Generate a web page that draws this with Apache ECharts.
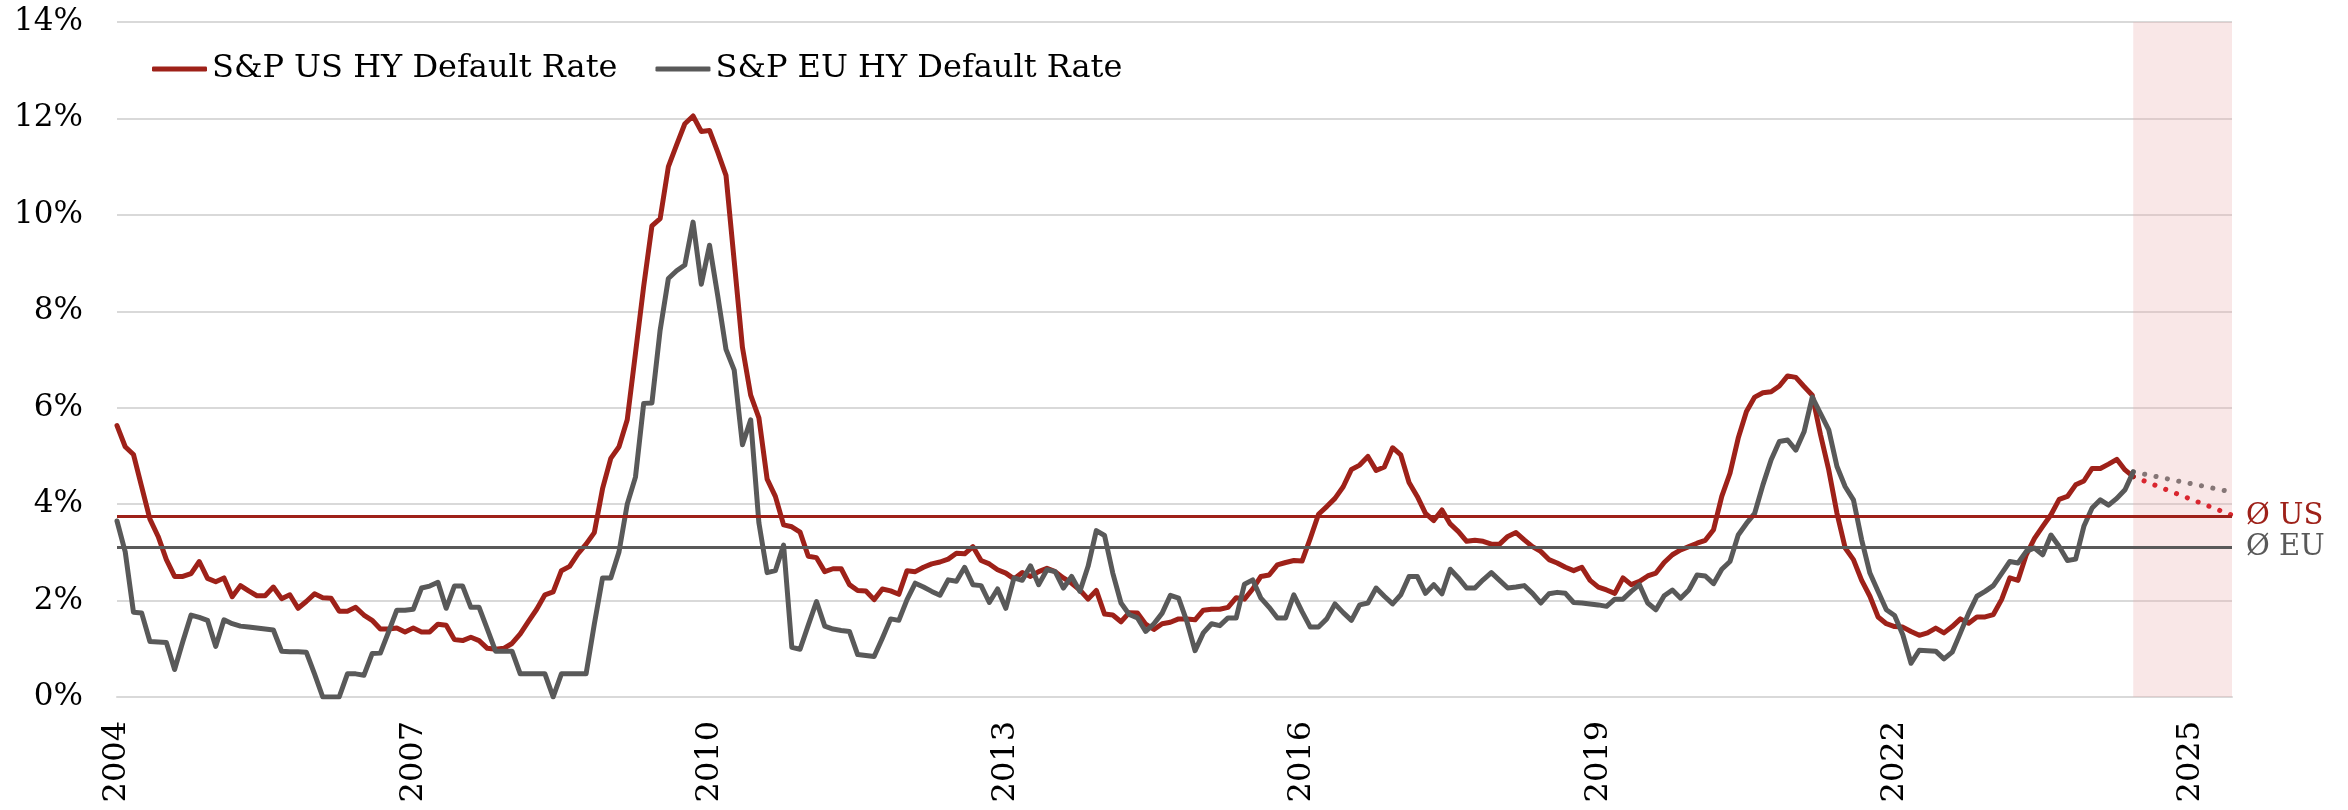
<!DOCTYPE html>
<html>
<head>
<meta charset="utf-8">
<script src="https://cdn.jsdelivr.net/npm/echarts@6/dist/echarts.min.js"></script>
<style>
  html, body { margin: 0; padding: 0; background: #ffffff; }
  #chart { width: 2348px; height: 810px; }
</style>
</head>
<body>
<div id="chart"></div>
<script>
// Monthly categories Jan 2004 .. Jun 2025
const firstYear = 2004;
const monthCount = 258;
const months = [];
for (let k = 0; k < monthCount; k++) {
  months.push((firstYear + Math.floor(k / 12)) + '-' + String(k % 12 + 1).padStart(2, '0'));
}
const yearTickEvery = 36;

// S&P US HY default rate (%), Jan 2004 .. Jun 2024
const usRate = [
  5.63, 5.19, 5.03, 4.36, 3.69, 3.33, 2.85, 2.50, 2.50, 2.56,
  2.81, 2.46, 2.39, 2.47, 2.08, 2.31, 2.20, 2.10, 2.10, 2.28,
  2.04, 2.12, 1.84, 1.98, 2.14, 2.06, 2.05, 1.78, 1.78, 1.86,
  1.70, 1.59, 1.41, 1.41, 1.43, 1.35, 1.43, 1.35, 1.35, 1.51,
  1.49, 1.19, 1.17, 1.24, 1.17, 1.01, 0.99, 1.01, 1.11, 1.31,
  1.57, 1.82, 2.12, 2.18, 2.62, 2.71, 2.97, 3.17, 3.41, 4.32,
  4.95, 5.19, 5.75, 7.13, 8.52, 9.77, 9.92, 11.00, 11.45, 11.89,
  12.05, 11.73, 11.75, 11.30, 10.82, 9.04, 7.25, 6.26, 5.79, 4.52,
  4.16, 3.57, 3.53, 3.42, 2.92, 2.89, 2.60, 2.66, 2.66, 2.33,
  2.21, 2.20, 2.02, 2.24, 2.20, 2.13, 2.62, 2.60, 2.69, 2.76,
  2.80, 2.86, 2.98, 2.97, 3.12, 2.83, 2.76, 2.64, 2.57, 2.45,
  2.58, 2.50, 2.60, 2.67, 2.60, 2.47, 2.36, 2.22, 2.03, 2.21,
  1.72, 1.70, 1.56, 1.75, 1.74, 1.51, 1.40, 1.52, 1.55, 1.62,
  1.62, 1.60, 1.80, 1.82, 1.82, 1.86, 2.06, 2.03, 2.24, 2.50,
  2.53, 2.74, 2.79, 2.83, 2.82, 3.29, 3.79, 3.95, 4.12, 4.36,
  4.72, 4.81, 4.99, 4.70, 4.77, 5.17, 5.02, 4.45, 4.16, 3.81,
  3.66, 3.88, 3.59, 3.43, 3.23, 3.25, 3.23, 3.17, 3.17, 3.33,
  3.41, 3.26, 3.12, 3.02, 2.85, 2.78, 2.69, 2.62, 2.69, 2.42,
  2.28, 2.22, 2.15, 2.47, 2.33, 2.40, 2.51, 2.57, 2.79, 2.95,
  3.05, 3.12, 3.19, 3.25, 3.47, 4.16, 4.64, 5.37, 5.92, 6.22,
  6.31, 6.33, 6.45, 6.66, 6.63, 6.44, 6.26, 5.44, 4.71, 3.81,
  3.09, 2.85, 2.42, 2.09, 1.66, 1.52, 1.46, 1.45, 1.36, 1.28,
  1.33, 1.43, 1.33, 1.46, 1.62, 1.53, 1.66, 1.66, 1.71, 2.02,
  2.47, 2.42, 2.95, 3.29, 3.54, 3.78, 4.10, 4.16, 4.40, 4.48,
  4.74, 4.74, 4.83, 4.93, 4.71, 4.57
];

// S&P EU HY default rate (%), Jan 2004 .. Jun 2024
const euRate = [
  3.65, 3.01, 1.76, 1.74, 1.15, 1.14, 1.13, 0.57, 1.15, 1.70,
  1.65, 1.59, 1.05, 1.60, 1.52, 1.47, 1.45, 1.43, 1.41, 1.39,
  0.95, 0.94, 0.94, 0.93, 0.48, 0.00, 0.00, 0.00, 0.48, 0.48,
  0.45, 0.90, 0.91, 1.35, 1.80, 1.80, 1.82, 2.26, 2.30, 2.38,
  1.84, 2.30, 2.30, 1.86, 1.86, 1.41, 0.95, 0.95, 0.95, 0.48,
  0.48, 0.48, 0.48, 0.00, 0.48, 0.48, 0.48, 0.48, 1.51, 2.47,
  2.47, 3.01, 4.00, 4.56, 6.09, 6.10, 7.61, 8.68, 8.84, 8.96,
  9.85, 8.56, 9.37, 8.32, 7.21, 6.78, 5.23, 5.75, 3.61, 2.58,
  2.62, 3.15, 1.03, 0.99, 1.49, 1.98, 1.47, 1.41, 1.38, 1.36,
  0.88, 0.86, 0.84, 1.22, 1.62, 1.59, 2.02, 2.36, 2.28, 2.19,
  2.11, 2.43, 2.40, 2.69, 2.33, 2.31, 1.96, 2.24, 1.84, 2.47,
  2.42, 2.72, 2.33, 2.64, 2.60, 2.26, 2.50, 2.19, 2.71, 3.45,
  3.35, 2.57, 1.95, 1.71, 1.64, 1.36, 1.52, 1.74, 2.11, 2.05,
  1.57, 0.96, 1.33, 1.52, 1.48, 1.64, 1.64, 2.34, 2.43, 2.05,
  1.86, 1.64, 1.64, 2.12, 1.77, 1.45, 1.45, 1.62, 1.93, 1.75,
  1.59, 1.91, 1.95, 2.26, 2.09, 1.93, 2.12, 2.50, 2.50, 2.15,
  2.33, 2.14, 2.65, 2.47, 2.26, 2.26, 2.43, 2.58, 2.42, 2.26,
  2.28, 2.31, 2.15, 1.95, 2.14, 2.17, 2.15, 1.96, 1.95, 1.93,
  1.91, 1.88, 2.03, 2.03, 2.19, 2.33, 1.95, 1.81, 2.10, 2.22,
  2.05, 2.22, 2.53, 2.51, 2.35, 2.65, 2.81, 3.36, 3.60, 3.81,
  4.40, 4.92, 5.30, 5.33, 5.12, 5.50, 6.22, 5.88, 5.54, 4.78,
  4.36, 4.09, 3.26, 2.57, 2.19, 1.81, 1.69, 1.29, 0.70, 0.97,
  0.96, 0.95, 0.79, 0.93, 1.33, 1.74, 2.09, 2.19, 2.31, 2.56,
  2.81, 2.78, 3.02, 3.09, 2.95, 3.36, 3.12, 2.83, 2.86, 3.54,
  3.92, 4.09, 3.98, 4.12, 4.30, 4.67
];

// Forecast end points (dotted), last actual -> Jun 2025
const forecastMonths = ['2024-06', '2025-06'];
const usForecast = [4.57, 3.77];
const euForecast = [4.67, 4.25];

// Long-run averages
const usAverage = 3.74;
const euAverage = 3.10;

// Shaded forecast window
const forecastWindow = ['2024-06', '2025-06'];

// y ticks
const yMin = 0, yMax = 14, yStep = 2;

const RED = '#9E2119';
const GRAY = '#595959';
const FONT = 'DejaVu Serif';

const chart = echarts.init(document.getElementById('chart'), null, { renderer: 'canvas' });

chart.setOption({
  animation: false,
  backgroundColor: '#ffffff',
  grid: { left: 117, right: 116, top: 22, bottom: 113, containLabel: false },
  legend: {
    left: 152,
    top: 53,
    padding: 0,
    itemWidth: 55,
    itemHeight: 5,
    itemGap: 38,
    icon: 'roundRect',
    data: ['S&P US HY Default Rate', 'S&P EU HY Default Rate'],
    textStyle: { fontFamily: FONT, fontSize: 32, color: '#000000', lineHeight: 32 }
  },
  xAxis: {
    type: 'category',
    data: months,
    boundaryGap: false,
    axisLine: { show: true, lineStyle: { color: '#d9d9d9', width: 2 } },
    axisTick: { show: false },
    splitLine: { show: false },
    axisLabel: {
      interval: function (index) { return index % yearTickEvery === 0; },
      formatter: function (v) { return v.slice(0, 4); },
      rotate: 90,
      margin: 24,
      fontFamily: FONT,
      fontSize: 32,
      color: '#000000'
    }
  },
  yAxis: {
    type: 'value',
    min: yMin,
    max: yMax,
    interval: yStep,
    axisLine: { show: false },
    axisTick: { show: false },
    splitLine: { show: true, lineStyle: { color: '#d9d9d9', width: 2 } },
    axisLabel: {
      formatter: '{value}%',
      margin: 34,
      fontFamily: FONT,
      fontSize: 31,
      color: '#000000'
    }
  },
  series: [
    {
      name: 'averages',
      type: 'line',
      data: [],
      z: 1,
      silent: true,
      markLine: {
        silent: true,
        symbol: ['none', 'none'],
        data: [
          {
            yAxis: usAverage,
            lineStyle: { color: RED, width: 3, type: 'solid' },
            label: { show: true, position: 'end', distance: 14, formatter: 'Ø US',
                     color: RED, fontFamily: FONT, fontSize: 29 }
          },
          {
            yAxis: euAverage,
            lineStyle: { color: GRAY, width: 3, type: 'solid' },
            label: { show: true, position: 'end', distance: 14, formatter: 'Ø EU',
                     color: GRAY, fontFamily: FONT, fontSize: 29 }
          }
        ]
      }
    },
    {
      name: 'S&P US HY Default Rate',
      type: 'line',
      data: usRate,
      z: 3,
      showSymbol: false,
      symbol: 'none',
      color: RED,
      lineStyle: { color: RED, width: 5, join: 'round', cap: 'round' }
    },
    {
      name: 'S&P EU HY Default Rate',
      type: 'line',
      data: euRate,
      z: 3,
      showSymbol: false,
      symbol: 'none',
      color: GRAY,
      lineStyle: { color: GRAY, width: 5, join: 'round', cap: 'round' }
    },
    {
      name: 'US forecast',
      type: 'line',
      data: forecastMonths.map(function (m, k) { return [m, usForecast[k]]; }),
      z: 2,
      showSymbol: false,
      symbol: 'none',
      lineStyle: { color: '#D9262F', width: 5, type: [0.1, 11.5], cap: 'round' }
    },
    {
      name: 'EU forecast',
      type: 'line',
      data: forecastMonths.map(function (m, k) { return [m, euForecast[k]]; }),
      z: 2,
      showSymbol: false,
      symbol: 'none',
      lineStyle: { color: '#857676', width: 5, type: [0.1, 11.5], cap: 'round' }
    },
    {
      name: 'window',
      type: 'line',
      data: [],
      z: 10,
      silent: true,
      markArea: {
        silent: true,
        itemStyle: { color: 'rgba(235,175,175,0.3)' },
        data: [[{ xAxis: forecastWindow[0] }, { xAxis: forecastWindow[1] }]]
      }
    }
  ]
});
</script>
</body>
</html>
